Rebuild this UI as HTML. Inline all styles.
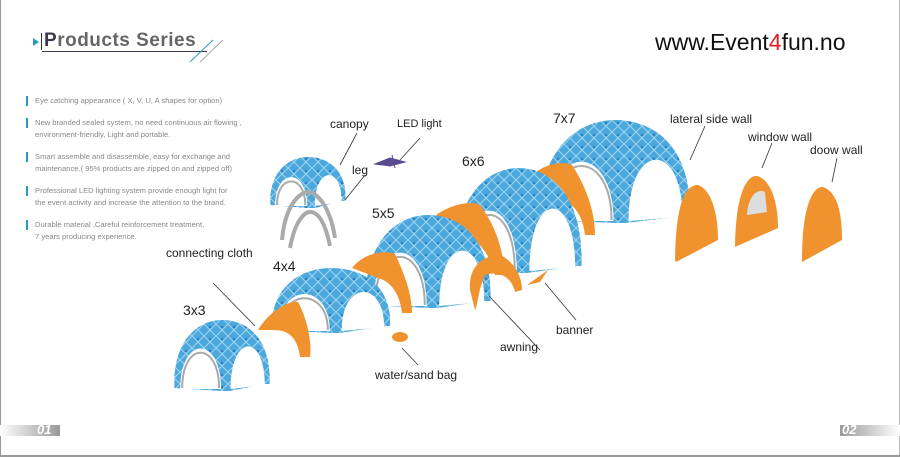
<!DOCTYPE html>
<html><head><meta charset="utf-8"><style>
body{margin:0;background:#fff}
.wrap{position:relative;width:900px;height:457px;overflow:hidden;background:#fff;font-family:"Liberation Sans",sans-serif}
.t{position:absolute;color:#222;font-size:12px;white-space:nowrap}
.b{position:absolute;left:35px;color:#888;font-size:7.6px;line-height:12px}
.b:before{content:"";position:absolute;left:-9px;top:1px;width:2px;height:10px;background:#2a9bc8}
</style></head><body><div class="wrap">
<div style="position:absolute;left:0;top:0;width:1px;height:457px;background:#999"></div>
<div style="position:absolute;left:899px;top:0;width:1px;height:457px;background:#bbb"></div>
<div style="position:absolute;left:0;top:455px;width:900px;height:2px;background:#999"></div>
<div style="position:absolute;left:33px;top:38px;width:0;height:0;border-left:6px solid #2a9bc8;border-top:4px solid transparent;border-bottom:4px solid transparent"></div>
<div style="position:absolute;left:41px;top:33px;width:1px;height:17px;background:#333"></div>
<div style="position:absolute;left:44px;top:30px;font-size:19px;font-weight:bold;color:#666;letter-spacing:.5px"><span style="color:#3a3a50">P</span>roducts Series</div>
<div style="position:absolute;left:42px;top:51px;width:165px;height:1px;background:#3a3a50"></div>
<svg style="position:absolute;left:185px;top:35px" width="45" height="30"><line x1="5" y1="27" x2="28" y2="5" stroke="#2a9bc8"/><line x1="15" y1="27" x2="38" y2="5" stroke="#aaa"/></svg>
<div style="position:absolute;left:655px;top:29px;font-size:23px;color:#111">www.Event<span style="color:#e02020">4</span>fun.no</div>
<div class="b" style="top:95px">Eye catching appearance ( X, V, U, A shapes for option)</div>
<div class="b" style="top:117px">New branded sealed system, no need continuous air flowing ,<br>environment-friendly, Light and portable.</div>
<div class="b" style="top:151px">Smart assemble and disassemble, easy for exchange and<br>maintenance.( 95% products are zipped on and zipped off)</div>
<div class="b" style="top:185px">Professional LED lighting system provide enough light for<br>the event activity and increase the attention to the brand.</div>
<div class="b" style="top:219px">Durable material ,Careful reinforcement treatment,<br>7 years producing experience.</div>
<svg id="s" style="position:absolute;left:0;top:0" width="900" height="457">
<defs><pattern id="p" width="12" height="12" patternUnits="userSpaceOnUse"><rect width="12" height="12" fill="#4aa8dd"/><path d="M0 0L6 6L12 0M0 12L6 6L12 12" stroke="#9fd4f0" stroke-width="1" fill="none"/><circle cx="6" cy="3" r="1.2" fill="#2a7cc0"/></pattern></defs>
<g id="d"></g>
<path d="M747 215 C748 195 758 188 765 192 L767 212Z" fill="#ddd"/>
<path d="M282 240 C285 205 300 192 308 192 C316 192 330 205 335 238 M290 248 C295 220 305 212 310 212 C318 212 325 222 330 246" stroke="#aaa" stroke-width="4" fill="none"/>
<path d="M375 164 L390 158 L405 162 L390 166Z M392 155 L395 168" fill="#5a4a90" stroke="#5a4a90"/>
<g stroke="#333" stroke-width=".8">
<line x1="357" y1="133" x2="340" y2="165"/><line x1="420" y1="138" x2="400" y2="160"/><line x1="365" y1="175" x2="345" y2="200"/>
<line x1="213" y1="283" x2="255" y2="326"/><line x1="705" y1="126" x2="690" y2="160"/><line x1="772" y1="143" x2="762" y2="168"/><line x1="837" y1="158" x2="832" y2="182"/>
<line x1="540" y1="350" x2="489" y2="296"/><line x1="576" y1="320" x2="545" y2="283"/><line x1="418" y1="365" x2="402" y2="348"/>
</g></svg>
<script>
var g=document.getElementById('d'),h='';
function dome(cx,top,w,ht){var L=cx-w/2,R=cx+w/2,B=top+ht,m=cx+w*0.04;
h+='<path fill="url(#p)" d="M'+L+' '+B+' C'+(L-2)+' '+(top+ht*0.3)+' '+(cx-w*0.25)+' '+top+' '+cx+' '+top+' C'+(cx+w*0.28)+' '+top+' '+(R+2)+' '+(top+ht*0.3)+' '+R+' '+(B-4)+' L'+(R-5)+' '+(B-4)+' L'+(m+4)+' '+(B+3)+' L'+(m-4)+' '+(B+3)+'Z"/>';
var a=L+w*0.06,b=m-w*0.05,c=m+w*0.05,d=R-w*0.05,y=top+ht*0.22;
h+='<path fill="#fff" d="M'+a+' '+(B+1)+' C'+a+' '+y+' '+b+' '+y+' '+b+' '+(B+1)+'Z"/>';
h+='<path fill="#fff" d="M'+c+' '+(B+1)+' C'+c+' '+(y-2)+' '+d+' '+(y-2)+' '+d+' '+(B-3)+'Z"/>';
h+='<path fill="none" stroke="#aaa" stroke-width="2" d="M'+(a+2)+' '+B+' C'+(a+2)+' '+(y+6)+' '+(b-2)+' '+(y+6)+' '+(b-2)+' '+B+'"/>';}
function o(d){h+='<path fill="#f0922e" d="'+d+'"/>';}
dome(615,120,150,100);
o('M527 180 C540 165 560 160 572 165 C585 185 595 210 595 235 L585 235 C582 210 570 200 550 195Z');
dome(518,168,127,102);
o('M436 215 C450 205 470 200 480 205 C495 225 503 248 505 275 L495 275 C490 255 480 240 460 232Z');
dome(428,215,125,90);
o('M352 268 C365 252 385 250 395 254 C405 275 412 295 412 313 L402 313 C400 295 392 282 378 278Z');
dome(331,268,118,62);
o('M258 330 C270 310 290 300 298 302 C308 320 312 345 310 357 L300 357 C298 340 290 330 275 330Z');
dome(222,320,95,68);
dome(308,157,75,48);
o('M470 290 C468 265 485 255 500 255 C512 260 522 275 522 290 L515 292 C512 278 500 270 485 275 C478 290 478 305 475 310Z');
o('M527 285 L548 270 L540 282Z');
o('M675 260 C676 195 688 185 698 185 C712 190 718 215 718 240 L676 262Z');
o('M735 245 C736 190 748 175 757 176 C772 180 778 205 778 228 L735 247Z');
o('M802 260 C802 200 815 186 823 187 C838 192 842 215 842 240 L802 262Z');
o('M392 337 a8 5 0 1 0 16 0 a8 5 0 1 0 -16 0Z');
g.innerHTML=h;
</script>
<div class="t" style="left:330px;top:117px">canopy</div>
<div class="t" style="left:397px;top:118px;font-size:11px">LED light</div>
<div class="t" style="left:352px;top:163px">leg</div>
<div class="t" style="left:553px;top:110px;font-size:14px">7x7</div>
<div class="t" style="left:462px;top:153px;font-size:14px">6x6</div>
<div class="t" style="left:372px;top:205px;font-size:14px">5x5</div>
<div class="t" style="left:273px;top:258px;font-size:14px">4x4</div>
<div class="t" style="left:183px;top:302px;font-size:14px">3x3</div>
<div class="t" style="left:166px;top:246px">connecting cloth</div>
<div class="t" style="left:670px;top:112px">lateral side wall</div>
<div class="t" style="left:748px;top:130px">window wall</div>
<div class="t" style="left:810px;top:143px">doow wall</div>
<div class="t" style="left:556px;top:323px">banner</div>
<div class="t" style="left:500px;top:340px">awning</div>
<div class="t" style="left:375px;top:368px">water/sand bag</div>
<div style="position:absolute;left:0;top:425px;width:60px;height:11px;background:linear-gradient(90deg,#fff,#999)"></div>
<div style="position:absolute;left:37px;top:422px;font-size:13px;font-style:italic;color:#fff;font-weight:bold">01</div>
<div style="position:absolute;left:840px;top:425px;width:60px;height:11px;background:linear-gradient(90deg,#999,#fff)"></div>
<div style="position:absolute;left:842px;top:422px;font-size:13px;font-style:italic;color:#fff;font-weight:bold">02</div>
</div></body></html>
